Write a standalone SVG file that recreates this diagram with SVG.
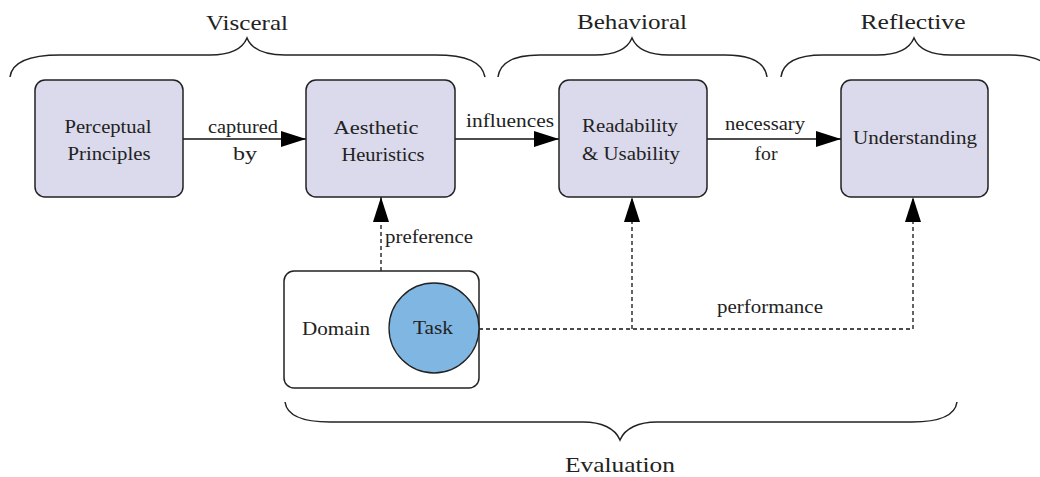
<svg xmlns="http://www.w3.org/2000/svg" width="1040" height="477" viewBox="0 0 1040 477" font-family="'Liberation Serif', 'DejaVu Serif', serif">
<defs>
<style>
text{fill:#222;text-anchor:middle}
.node{fill:#dadaec;stroke:#222;stroke-width:1.5}
.lbl{font-size:19px}
.elbl{font-size:18px}
.grp{font-size:22px}
.edge{fill:none;stroke:#111;stroke-width:1.5}
.dash{fill:none;stroke:#111;stroke-width:1.3;stroke-dasharray:4 3}
.brace{fill:none;stroke:#222;stroke-width:1.5}
</style>
<marker id="ah" markerUnits="userSpaceOnUse" markerWidth="26" markerHeight="18" refX="25" refY="8" orient="auto">
<path d="M0,0 L25,8 L0,16 Z" fill="#000"/>
</marker>
</defs>
<rect width="1040" height="477" fill="#fff"/>

<g id="braces">
<path class="brace" d="M10,77 C12,62 28,55 60,55 L210,55 C228,55 242,50 247,38 C252,50 266,55 285,55 L435,55 C467,55 482,62 485,77"/>
<path class="brace" d="M498,77 C500,62 514,55 540,55 L595,55 C613,55 627,50 632,38 C637,50 651,55 669,55 L725,55 C751,55 765,62 767,77"/>
<path class="brace" d="M781,77 C783,62 797,55 823,55 L877,55 C895,55 909,50 914,38 C919,50 933,55 951,55 L1010,55 C1036,55 1050,62 1052,77"/>
<path class="brace" d="M285,402 C287,416 302,422 330,422 L583,422 C601,422 615,428 620,440 C625,428 639,422 657,422 L912,422 C940,422 955,416 957,402"/>
<text class="grp" x="247" y="30" textLength="82" lengthAdjust="spacingAndGlyphs">Visceral</text>
<text class="grp" x="632" y="29" textLength="110" lengthAdjust="spacingAndGlyphs">Behavioral</text>
<text class="grp" x="913" y="29" textLength="105" lengthAdjust="spacingAndGlyphs">Reflective</text>
<text class="grp" x="620" y="472" textLength="110" lengthAdjust="spacingAndGlyphs">Evaluation</text>
</g>

<g id="connectors">
<line class="edge" x1="183" y1="139" x2="306" y2="139" marker-end="url(#ah)"/>
<line class="edge" x1="455" y1="139" x2="559" y2="139" marker-end="url(#ah)"/>
<line class="edge" x1="707" y1="139" x2="841" y2="139" marker-end="url(#ah)"/>
<line class="dash" x1="381" y1="271" x2="381" y2="197" marker-end="url(#ah)"/>
<line class="dash" x1="479" y1="329" x2="913" y2="329"/>
<line class="dash" x1="632" y1="329" x2="632" y2="197" marker-end="url(#ah)"/>
<line class="dash" x1="913" y1="329" x2="913" y2="197" marker-end="url(#ah)"/>
<text class="elbl" x="243" y="133" textLength="70" lengthAdjust="spacingAndGlyphs">captured</text>
<text class="elbl" x="245" y="160" textLength="24" lengthAdjust="spacingAndGlyphs">by</text>
<text class="elbl" x="510" y="127" textLength="88" lengthAdjust="spacingAndGlyphs">influences</text>
<text class="elbl" x="765" y="130" textLength="80" lengthAdjust="spacingAndGlyphs">necessary</text>
<text class="elbl" x="766" y="160" textLength="23" lengthAdjust="spacingAndGlyphs">for</text>
<text class="elbl" x="429" y="243" textLength="88" lengthAdjust="spacingAndGlyphs">preference</text>
<text class="elbl" x="770" y="313" textLength="106" lengthAdjust="spacingAndGlyphs">performance</text>
</g>

<g id="perceptual">
<rect class="node" x="35" y="80" width="148" height="117" rx="10"/>
<text class="lbl" x="108" y="133" textLength="87" lengthAdjust="spacingAndGlyphs">Perceptual</text>
<text class="lbl" x="109" y="160" textLength="83" lengthAdjust="spacingAndGlyphs">Principles</text>
</g>
<g id="aesthetic">
<rect class="node" x="306" y="80" width="149" height="117" rx="10"/>
<text class="lbl" x="376" y="134" textLength="85" lengthAdjust="spacingAndGlyphs">Aesthetic</text>
<text class="lbl" x="383" y="161" textLength="83" lengthAdjust="spacingAndGlyphs">Heuristics</text>
</g>
<g id="readability">
<rect class="node" x="559" y="80" width="148" height="117" rx="10"/>
<text class="lbl" x="630" y="132" textLength="96" lengthAdjust="spacingAndGlyphs">Readability</text>
<text class="lbl" x="631" y="160" textLength="98" lengthAdjust="spacingAndGlyphs">&amp; Usability</text>
</g>
<g id="understanding">
<rect class="node" x="841" y="80" width="147" height="117" rx="10"/>
<text class="lbl" x="915" y="144" textLength="124" lengthAdjust="spacingAndGlyphs">Understanding</text>
</g>
<g id="domain">
<rect x="284" y="271" width="195" height="117" rx="10" fill="#fff" stroke="#222" stroke-width="1.5"/>
<text class="elbl" x="336" y="335" textLength="68" lengthAdjust="spacingAndGlyphs">Domain</text>
</g>
<g id="task">
<circle cx="434" cy="328" r="45" fill="#80b6e2" stroke="#222" stroke-width="1.3"/>
<text class="elbl" x="433" y="334" textLength="40" lengthAdjust="spacingAndGlyphs">Task</text>
</g>
</svg>
